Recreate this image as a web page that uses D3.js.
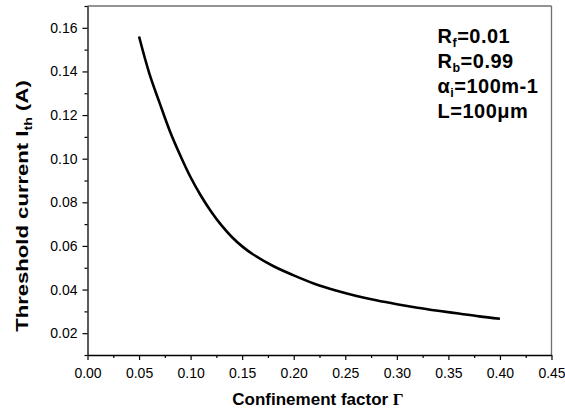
<!DOCTYPE html>
<html>
<head>
<meta charset="utf-8">
<script src="https://cdn.jsdelivr.net/npm/d3@7"></script>
<style>
  body { margin: 0; background: #fff; }
  svg { font-family: "Liberation Sans", Arial, sans-serif; }
</style>
</head>
<body>
<div id="chart"></div>
<script>
// confinement factor vs threshold current
const gamma = [0.05, 0.06, 0.07, 0.08, 0.09, 0.10, 0.11, 0.12, 0.13, 0.14, 0.15, 0.16,
               0.18, 0.20, 0.22, 0.24, 0.26, 0.28, 0.30, 0.32, 0.34, 0.36, 0.38, 0.40];
const ith = [0.156, 0.139, 0.1255, 0.1125, 0.1015, 0.0915, 0.083, 0.0757, 0.0694, 0.0641, 0.0598, 0.0563,
             0.0508, 0.0465, 0.0427, 0.0397, 0.0372, 0.0351, 0.0333, 0.0317, 0.0303, 0.0290, 0.0277, 0.0266];
const xTicks = [0, 0.05, 0.10, 0.15, 0.20, 0.25, 0.30, 0.35, 0.40, 0.45];
const yTicks = [0.02, 0.04, 0.06, 0.08, 0.10, 0.12, 0.14, 0.16];
const notes = [
  {main: "R", sub: "f", rest: "=0.01"},
  {main: "R", sub: "b", rest: "=0.99"},
  {main: "\u03b1", sub: "i", rest: "=100m-1"},
  {main: "L=100\u03bcm", sub: "", rest: ""}
];

const W = 565, H = 412;
const margin = {left: 87.5, right: 13.5, top: 6, bottom: 57};
const width = W - margin.left - margin.right;
const height = H - margin.top - margin.bottom;

const svg = d3.select("#chart").append("svg")
    .attr("width", W).attr("height", H);
const g = svg.append("g")
    .attr("transform", `translate(${margin.left},${margin.top})`);

const x = d3.scaleLinear().domain([0, 0.45]).range([0, width]);
const y = d3.scaleLinear().domain([0.01, 0.17]).range([height, 0]);

// frame: top and right in grey
g.append("line").attr("x1", 0).attr("x2", width).attr("y1", 0).attr("y2", 0)
    .attr("stroke", "#6f6f6f").attr("stroke-width", 1.3);
g.append("line").attr("x1", width).attr("x2", width).attr("y1", 0).attr("y2", height)
    .attr("stroke", "#6f6f6f").attr("stroke-width", 1.3);

// minor ticks
const xMinor = d3.range(0.025, 0.45, 0.05);
const yMinor = d3.range(0.01, 0.171, 0.02);
g.append("g").attr("transform", `translate(0,${height})`)
    .call(d3.axisBottom(x).tickValues(xMinor).tickSize(3).tickFormat(""))
    .call(a => a.select(".domain").remove());
g.append("g")
    .call(d3.axisLeft(y).tickValues(yMinor).tickSize(3).tickFormat(""))
    .call(a => a.select(".domain").remove());

// major axes
const xAxis = g.append("g").attr("transform", `translate(0,${height})`)
    .call(d3.axisBottom(x).tickValues(xTicks).tickSize(5).tickSizeOuter(0).tickPadding(8)
        .tickFormat(d3.format(".2f")));
const yAxis = g.append("g")
    .call(d3.axisLeft(y).tickValues(yTicks).tickSize(5).tickSizeOuter(0).tickPadding(5)
        .tickFormat(d3.format(".2f")));

[xAxis, yAxis].forEach(a => {
  a.selectAll("text").attr("font-size", 14).attr("fill", "#000")
      .attr("font-family", "'Liberation Sans', Arial, sans-serif");
  a.select(".domain").attr("stroke", "#000").attr("stroke-width", 1.3);
});
svg.selectAll(".tick line").attr("stroke", "#000").attr("stroke-width", 1.2);

// curve
const pts = gamma.map((d, i) => [d, ith[i]]);
g.append("path")
    .datum(pts)
    .attr("fill", "none")
    .attr("stroke", "#000")
    .attr("stroke-width", 2.6)
    .attr("d", d3.line().x(d => x(d[0])).y(d => y(d[1])).curve(d3.curveCatmullRom));

// annotation
const note = svg.append("g").attr("font-weight", "bold").attr("font-size", 20)
    .attr("letter-spacing", 0.5);
notes.forEach((n, i) => {
  const t = note.append("text").attr("x", 437.5).attr("y", 43 + i * 25);
  t.append("tspan").text(n.main);
  if (n.sub) t.append("tspan").attr("font-size", 12.5).attr("dy", 4).text(n.sub);
  if (n.rest) t.append("tspan").attr("dy", n.sub ? -4 : 0).text(n.rest);
});

// axis titles
const xt = svg.append("text")
    .attr("x", 318)
    .attr("y", 405)
    .attr("text-anchor", "middle")
    .attr("font-weight", "bold")
    .attr("font-size", 17);
xt.append("tspan").text("Confinement factor ");
xt.append("tspan").attr("font-family", "'Liberation Serif', 'Times New Roman', serif").text("\u0393");

// the y title is stretched along its length in the original
const yt = svg.append("text")
    .attr("transform", `translate(28,206) rotate(-90) scale(1.3,1)`)
    .attr("text-anchor", "middle")
    .attr("font-weight", "bold")
    .attr("font-size", 17);
yt.append("tspan").text("Threshold current I");
yt.append("tspan").attr("font-size", 11).attr("dy", 3.5).text("th");
yt.append("tspan").attr("dy", -3.5).text(" (A)");
</script>
</body>
</html>
